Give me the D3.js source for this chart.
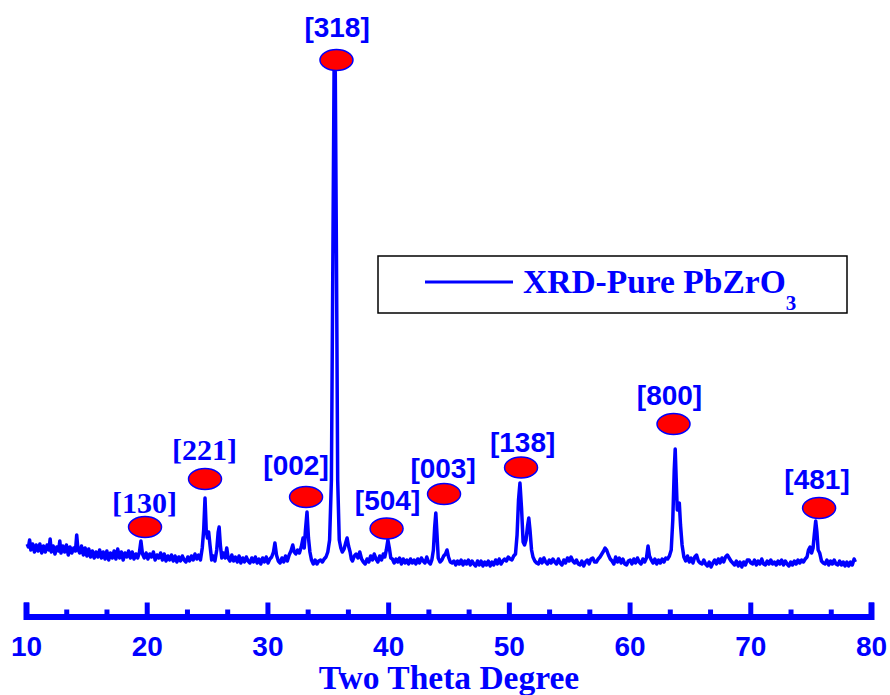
<!DOCTYPE html>
<html lang="en">
<head>
    <meta charset="UTF-8">
    <title>XRD - Pure PbZrO3</title>
    <style>
        body { margin: 0; background: #fff; }
        svg { display: block; }
    </style>
</head>
<body>
<svg id="chart"></svg>
<script src="https://cdn.jsdelivr.net/npm/d3@7"></script>
<script>
    // scan: [two theta, intensity (a.u.)]
    var scan = [
        [10.1,46],[10.2,43],[10.3,50],[10.4,40],[10.55,46],[10.7,38],[10.85,45],[11.0,39],[11.15,46],[11.3,37],
        [11.45,44],[11.6,38],[11.75,45],[11.9,40],[12.0,51],[12.1,38],[12.25,44],[12.4,36],[12.55,43],[12.7,39],
        [12.8,49],[12.9,37],[13.05,44],[13.2,38],[13.35,45],[13.5,35],[13.65,43],[13.8,37],[13.95,42],[14.1,39],
        [14.2,55],[14.3,41],[14.45,37],[14.6,44],[14.75,35],[14.9,42],[15.05,34],[15.2,41],[15.35,33],[15.5,39],
        [15.65,32],[15.8,38],[15.95,33],[16.1,40],[16.25,32],[16.4,38],[16.55,31],[16.7,39],[16.85,30],[17.0,37],
        [17.15,32],[17.3,39],[17.45,31],[17.6,41],[17.75,32],[17.9,38],[18.05,30],[18.2,37],[18.35,33],[18.5,39],
        [18.65,32],[18.8,38],[18.95,31],[19.1,36],[19.25,32],[19.4,38],[19.52,49],[19.65,36],[19.8,32],[19.95,37],
        [20.1,31],[20.25,36],[20.4,33],[20.55,38],[20.7,30],[20.85,35],[21.0,32],[21.15,37],[21.3,30],[21.45,36],
        [21.6,29],[21.75,34],[21.9,30],[22.05,35],[22.2,29],[22.35,34],[22.5,28],[22.65,33],[22.8,29],[22.95,34],
        [23.1,30],[23.25,28],[23.4,33],[23.55,29],[23.7,34],[23.85,30],[24.0,36],[24.15,31],[24.3,35],[24.45,30],
        [24.6,42],[24.72,60],[24.83,92],[24.93,60],[25.03,52],[25.13,58],[25.25,44],[25.38,30],[25.5,34],[25.65,29],
        [25.8,40],[25.92,58],[26.0,63],[26.1,45],[26.22,32],[26.35,37],[26.5,32],[26.63,42],[26.75,32],[26.9,29],
        [27.05,35],[27.2,29],[27.35,33],[27.5,28],[27.65,34],[27.8,27],[27.95,32],[28.1,28],[28.25,33],[28.4,29],
        [28.55,27],[28.7,32],[28.85,28],[29.0,33],[29.15,27],[29.3,31],[29.45,26],[29.6,32],[29.75,28],[29.9,33],
        [30.05,27],[30.2,31],[30.35,33],[30.5,38],[30.62,47],[30.75,35],[30.9,29],[31.05,27],[31.2,32],[31.35,28],
        [31.5,34],[31.65,29],[31.8,35],[31.95,39],[32.1,45],[32.22,38],[32.35,36],[32.5,40],[32.65,37],[32.8,43],
        [32.95,52],[33.05,42],[33.15,60],[33.28,78],[33.4,52],[33.52,38],[33.65,30],[33.8,26],[33.95,30],[34.1,26],
        [34.25,29],[34.4,30],[34.55,28],[34.7,31],[34.85,33],[35.0,38],[35.15,50],[35.3,110],[35.42,330],[35.52,520],
        [35.62,518],[35.72,330],[35.82,110],[35.95,50],[36.08,42],[36.2,38],[36.35,41],[36.5,48],[36.6,52],[36.72,44],
        [36.85,38],[36.95,31],[37.05,29],[37.2,34],[37.35,36],[37.5,32],[37.65,38],[37.8,31],[37.95,28],[38.1,26],
        [38.25,31],[38.4,28],[38.55,34],[38.7,30],[38.85,36],[39.0,31],[39.15,28],[39.3,34],[39.45,30],[39.6,36],
        [39.72,33],[39.85,40],[39.98,50],[40.1,42],[40.22,32],[40.35,31],[40.5,27],[40.65,31],[40.8,28],[40.95,32],
        [41.1,26],[41.25,31],[41.4,27],[41.55,30],[41.7,26],[41.85,31],[42.0,27],[42.15,30],[42.3,26],[42.45,31],
        [42.6,27],[42.75,32],[42.9,29],[43.05,27],[43.2,33],[43.35,28],[43.5,26],[43.62,30],[43.75,40],[43.85,62],
        [43.95,77],[44.05,55],[44.15,32],[44.3,28],[44.45,30],[44.6,34],[44.75,36],[44.88,40],[45.0,33],[45.15,28],
        [45.3,27],[45.45,29],[45.6,25],[45.75,29],[45.9,26],[46.05,30],[46.2,25],[46.35,29],[46.5,26],[46.65,30],
        [46.8,25],[46.95,29],[47.1,26],[47.25,24],[47.4,29],[47.55,25],[47.7,29],[47.85,24],[48.0,28],[48.15,25],
        [48.3,29],[48.45,24],[48.6,28],[48.75,25],[48.9,30],[49.05,26],[49.2,31],[49.35,26],[49.5,29],[49.65,31],
        [49.8,29],[49.95,33],[50.1,31],[50.25,30],[50.4,34],[50.55,36],[50.68,55],[50.8,90],[50.92,107],[51.05,82],
        [51.18,48],[51.3,45],[51.42,50],[51.55,64],[51.65,72],[51.75,60],[51.88,40],[52.0,33],[52.15,29],[52.3,27],
        [52.45,26],[52.6,31],[52.75,27],[52.9,32],[53.05,28],[53.2,26],[53.35,30],[53.5,27],[53.65,31],[53.8,28],
        [53.95,26],[54.1,31],[54.25,27],[54.4,25],[54.55,30],[54.7,27],[54.85,32],[55.0,29],[55.15,33],[55.3,29],
        [55.45,27],[55.6,30],[55.75,26],[55.9,25],[56.05,29],[56.2,24],[56.35,28],[56.5,30],[56.65,26],[56.8,31],
        [56.95,32],[57.1,28],[57.25,28],[57.4,31],[57.55,33],[57.7,36],[57.85,39],[57.97,42],[58.1,40],[58.25,35],
        [58.4,31],[58.55,29],[58.7,26],[58.85,33],[59.0,28],[59.15,32],[59.3,27],[59.45,31],[59.6,26],[59.75,25],
        [59.9,29],[60.05,30],[60.2,26],[60.35,31],[60.5,27],[60.65,32],[60.8,28],[60.95,26],[61.1,31],[61.25,28],
        [61.4,32],[61.53,44],[61.65,34],[61.8,30],[61.95,27],[62.1,31],[62.25,26],[62.4,30],[62.55,27],[62.7,31],
        [62.85,28],[63.0,32],[63.15,31],[63.3,34],[63.45,40],[63.58,70],[63.7,120],[63.78,141],[63.86,112],[63.95,80],
        [64.05,86],[64.12,87],[64.22,65],[64.35,45],[64.5,33],[64.65,29],[64.8,34],[64.95,28],[65.1,32],[65.25,27],
        [65.4,33],[65.55,35],[65.7,29],[65.85,27],[66.0,26],[66.15,30],[66.3,26],[66.45,24],[66.6,28],[66.75,23],
        [66.9,27],[67.05,30],[67.2,26],[67.35,31],[67.5,27],[67.65,32],[67.8,28],[67.95,33],[68.1,35],[68.25,32],
        [68.4,29],[68.55,27],[68.7,25],[68.85,29],[69.0,24],[69.15,28],[69.3,23],[69.45,28],[69.6,25],[69.75,30],
        [69.9,30],[70.05,27],[70.2,26],[70.35,30],[70.5,25],[70.65,29],[70.8,26],[70.95,31],[71.1,26],[71.25,25],
        [71.4,29],[71.55,26],[71.7,30],[71.85,26],[72.0,28],[72.15,25],[72.3,29],[72.45,26],[72.6,30],[72.75,25],
        [72.9,29],[73.05,26],[73.2,24],[73.35,28],[73.5,25],[73.65,29],[73.8,26],[73.95,30],[74.1,27],[74.25,30],
        [74.4,28],[74.55,31],[74.7,33],[74.82,40],[74.95,43],[75.08,37],[75.2,42],[75.3,55],[75.42,69],[75.52,58],
        [75.62,40],[75.75,37],[75.9,29],[76.05,27],[76.2,26],[76.35,30],[76.5,25],[76.65,29],[76.8,26],[76.95,30],
        [77.1,26],[77.25,25],[77.4,29],[77.55,25],[77.7,28],[77.85,24],[78.0,28],[78.15,24],[78.3,28],[78.45,25],
        [78.6,31],[78.7,28]
    ];

    // peak labels (hkl), marker position and text position in data units
    var peakNames = ["[130]", "[221]", "[002]", "[318]", "[504]", "[003]", "[138]", "[800]", "[481]"];
    var markTheta = [19.86, 24.83, 33.20, 35.72, 39.87, 44.63, 51.01, 63.64, 75.70];
    var markLevel = [63, 111, 93, 530, 61.5, 96, 122.5, 166, 82];
    var textTheta = [19.82, 24.79, 32.37, 35.77, 39.95, 44.55, 51.14, 63.31, 75.53];
    var textLevel = [77, 130, 115, 553, 80, 112, 138, 185, 101];

    var majorTicks = [10, 20, 30, 40, 50, 60, 70, 80];
    var xTitle = "Two Theta Degree";
    var legendLabel = "XRD-Pure PbZrO";
    var legendSub = "3";

    var width = 890;
    var height = 695;
    var blue = "#0000ff";
    var serifLabels = ["[130]", "[221]"];

    var x = d3.scaleLinear().domain([10, 80]).range([26, 871]);
    var y = d3.scaleLinear().domain([0, 520]).range([590, 70]);
    var axisY = 616.5;

    var svg = d3.select("#chart")
        .attr("width", width)
        .attr("height", height);

    // minor ticks, two between each pair of majors
    var minorTicks = [];
    majorTicks.slice(0, -1).forEach(function (t) {
        minorTicks.push(t + 10 / 3, t + 20 / 3);
    });

    var minorAxis = d3.axisBottom(x)
        .tickValues(minorTicks)
        .tickSize(-7)
        .tickFormat("");
    var gMinor = svg.append("g")
        .attr("transform", "translate(0," + axisY + ")")
        .call(minorAxis);
    gMinor.select(".domain").remove();
    gMinor.selectAll(".tick line").attr("stroke", blue).attr("stroke-width", 5);

    var majorAxis = d3.axisBottom(x)
        .tickValues(majorTicks)
        .tickSizeInner(-14)
        .tickSizeOuter(-14)
        .tickFormat(d3.format("d"));
    var gMajor = svg.append("g")
        .attr("transform", "translate(0," + axisY + ")")
        .call(majorAxis);
    gMajor.select(".domain")
        .attr("stroke", blue)
        .attr("stroke-width", 6)
        .attr("fill", "none");
    gMajor.selectAll(".tick line").attr("stroke", blue).attr("stroke-width", 5);
    gMajor.selectAll(".tick text")
        .attr("y", 39)
        .attr("dy", 0)
        .attr("fill", blue)
        .style("font-family", "'Liberation Sans', Arial, sans-serif")
        .style("font-weight", "bold")
        .style("font-size", "28px");

    svg.append("text")
        .attr("x", 449)
        .attr("y", 689)
        .attr("text-anchor", "middle")
        .attr("fill", blue)
        .style("font-family", "'Liberation Serif', 'Times New Roman', serif")
        .style("font-weight", "bold")
        .style("font-size", "33.5px")
        .text(xTitle);

    // spectrum
    var line = d3.line()
        .x(function (d) { return x(d[0]); })
        .y(function (d) { return y(d[1]); });

    svg.append("path")
        .datum(scan)
        .attr("d", line)
        .attr("fill", "none")
        .attr("stroke", blue)
        .attr("stroke-width", 3.5)
        .attr("stroke-linejoin", "round");

    // peak markers
    svg.selectAll("ellipse.mark")
        .data(peakNames)
        .enter().append("ellipse")
        .attr("class", "mark")
        .attr("cx", function (d, i) { return x(markTheta[i]); })
        .attr("cy", function (d, i) { return y(markLevel[i]); })
        .attr("rx", 16.5)
        .attr("ry", 10.5)
        .attr("fill", "#ff0000")
        .attr("stroke", blue)
        .attr("stroke-width", 1.5);

    svg.selectAll("text.peak")
        .data(peakNames)
        .enter().append("text")
        .attr("class", "peak")
        .attr("x", function (d, i) { return x(textTheta[i]); })
        .attr("y", function (d, i) { return y(textLevel[i]); })
        .attr("text-anchor", "middle")
        .attr("fill", blue)
        .style("font-weight", "bold")
        .style("font-family", function (d) {
            return serifLabels.indexOf(d) >= 0
                ? "'Liberation Serif', 'Times New Roman', serif"
                : "'Liberation Sans', Arial, sans-serif";
        })
        .style("font-size", function (d) {
            return serifLabels.indexOf(d) >= 0 ? "30px" : "28px";
        })
        .text(function (d) { return d; });

    // legend
    var legend = svg.append("g");
    legend.append("rect")
        .attr("x", 378)
        .attr("y", 256)
        .attr("width", 469)
        .attr("height", 57)
        .attr("fill", "#fff")
        .attr("stroke", "#000")
        .attr("stroke-width", 1.5);
    legend.append("line")
        .attr("x1", 425).attr("x2", 513)
        .attr("y1", 282).attr("y2", 282)
        .attr("stroke", blue)
        .attr("stroke-width", 3);
    var lt = legend.append("text")
        .attr("x", 523)
        .attr("y", 293)
        .attr("fill", blue)
        .style("font-family", "'Liberation Serif', 'Times New Roman', serif")
        .style("font-weight", "bold")
        .style("font-size", "33.5px");
    lt.append("tspan").text(legendLabel);
    lt.append("tspan")
        .attr("dy", 17)
        .style("font-size", "21px")
        .text(legendSub);
</script>
</body>
</html>
